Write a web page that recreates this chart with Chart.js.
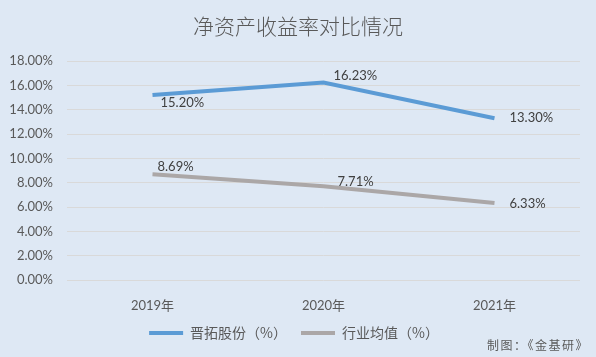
<!DOCTYPE html>
<html><head><meta charset="utf-8">
<script src="https://cdn.jsdelivr.net/npm/chart.js@4/dist/chart.umd.min.js"></script>
<style>html,body{margin:0;padding:0;background:#DEE8F4;}#wrap{width:596px;height:357px;}</style>
</head><body><div id="wrap"><canvas id="c" width="596" height="357"></canvas></div>
<script>
const categories = ['2019年', '2020年', '2021年'];
const jintuo = [15.20, 16.23, 13.30];
const industry = [8.69, 7.71, 6.33];
const seriesNames = ['晋拓股份（%）', '行业均值（%）'];
const titleText = '净资产收益率对比情况';
const sourceText = '制图：《金基研》';

const FONT = 'Lato, "Noto Sans CJK SC", sans-serif';
const CJK = '"Noto Sans CJK SC", sans-serif';

// label offsets [dx, dy] relative to point (style only)
const labelOffsets = [
  [[8, 8], [10, -7], [15, 0]],
  [[5, -7], [14, -4], [15, 1]]
];

const labelPlugin = {
  id: 'labels',
  afterDatasetsDraw(chart) {
    const ctx = chart.ctx;
    ctx.save();
    ctx.font = '13px ' + FONT;
    ctx.fillStyle = '#404040';
    ctx.textAlign = 'left';
    ctx.textBaseline = 'middle';
    chart.data.datasets.forEach((ds, di) => {
      const meta = chart.getDatasetMeta(di);
      meta.data.forEach((pt, i) => {
        const o = labelOffsets[di][i];
        ctx.fillText(ds.data[i].toFixed(2) + '%', pt.x + o[0], pt.y + o[1]);
      });
    });
    ctx.restore();
  },
  afterDraw(chart) {
    const ctx = chart.ctx;
    ctx.save();
    ctx.font = '300 21px ' + CJK;
    ctx.fillStyle = '#595959';
    ctx.textAlign = 'center';
    ctx.textBaseline = 'middle';
    ctx.fillText(titleText, 298, 26);
    ctx.font = '12px ' + CJK;
    ctx.textAlign = 'right';
    if ('letterSpacing' in ctx) ctx.letterSpacing = '1.5px';
    ctx.fillText(sourceText, 589, 345);
    ctx.restore();
  }
};

new Chart(document.getElementById('c'), {
  type: 'line',
  data: {
    labels: categories,
    datasets: [
      { label: seriesNames[0], data: jintuo, borderColor: '#5B9BD5', backgroundColor: '#5B9BD5', borderWidth: 4, pointRadius: 0, tension: 0 },
      { label: seriesNames[1], data: industry, borderColor: '#ABA7A7', backgroundColor: '#ABA7A7', borderWidth: 4, pointRadius: 0, tension: 0 }
    ]
  },
  options: {
    responsive: false,
    animation: false,
    layout: { padding: { top: 61, left: 8, right: 16, bottom: 7 } },
    plugins: {
      title: { display: false },
      tooltip: { enabled: false },
      legend: {
        position: 'bottom',
        labels: {
          font: { size: 14, family: CJK },
          color: '#595959',
          boxWidth: 34,
          boxHeight: 4,
          padding: 14,
          generateLabels(chart) {
            return chart.data.datasets.map((ds, i) => ({
              text: ds.label, fillStyle: ds.borderColor, strokeStyle: ds.borderColor,
              lineWidth: 0, hidden: false, datasetIndex: i, fontColor: '#595959'
            }));
          }
        }
      }
    },
    scales: {
      x: {
        offset: true,
        grid: { display: false },
        border: { display: false },
        ticks: { font: { size: 13, family: FONT }, color: '#595959', padding: 10 },
        afterFit(s) { s.height = 32; }
      },
      y: {
        min: 0, max: 18,
        grid: { color: '#D9D9D9', lineWidth: 1, drawTicks: false },
        border: { display: false },
        ticks: { stepSize: 2, font: { size: 13, family: FONT }, color: '#595959', padding: 14,
          callback: v => v.toFixed(2) + '%' },
        afterFit(s) { s.width = 59; }
      }
    }
  },
  plugins: [labelPlugin]
});
</script>
</body></html>
